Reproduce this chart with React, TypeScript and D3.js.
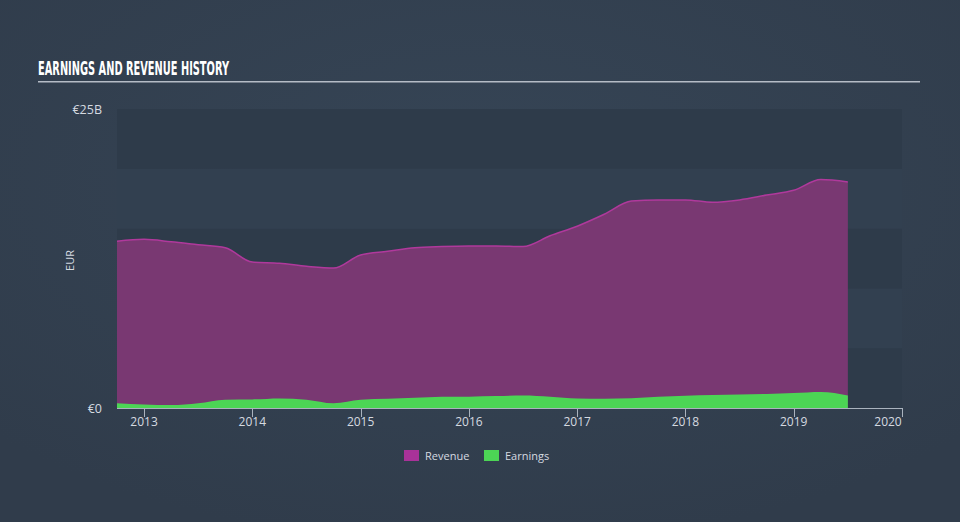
import React from "react";
import * as d3 from "d3";

const dates: number[] = [
  2012.75, 2013.0, 2013.25, 2013.5, 2013.75, 2014.0, 2014.25, 2014.5, 2014.75,
  2015.0, 2015.25, 2015.5, 2015.75, 2016.0, 2016.25, 2016.5, 2016.75,
  2017.0, 2017.25, 2017.5, 2017.75, 2018.0, 2018.25, 2018.5, 2018.75,
  2019.0, 2019.25, 2019.5,
];
const revenue: number[] = [
  13.95, 14.1, 13.9, 13.65, 13.4, 12.2, 12.1, 11.85, 11.7,
  12.8, 13.1, 13.4, 13.5, 13.55, 13.55, 13.5, 14.4,
  15.2, 16.2, 17.3, 17.4, 17.4, 17.2, 17.4, 17.8,
  18.2, 19.1, 18.9,
];
const earnings: number[] = [
  0.4, 0.3, 0.25, 0.4, 0.7, 0.72, 0.8, 0.7, 0.4,
  0.7, 0.78, 0.85, 0.95, 0.95, 1.0, 1.05, 0.95,
  0.8, 0.78, 0.82, 0.95, 1.03, 1.08, 1.12, 1.18,
  1.25, 1.34, 1.05,
];
const xTicks: number[] = [2013, 2014, 2015, 2016, 2017, 2018, 2019, 2020];
const yTickLabels: string[] = ["€0", "€25B"];
const yTickValues: number[] = [0, 25];
const legendLabels: string[] = ["Revenue", "Earnings"];

const W = 960;
const H = 522;
const left = 117;
const right = 902;
const top = 109;
const bottom = 408;

export default function App() {
  const x = d3.scaleLinear().domain([2012.75, 2020]).range([left, right]);
  const y = d3.scaleLinear().domain([0, 25]).range([bottom, top]);
  const pts = dates.map((d, i) => ({ d, r: revenue[i], e: earnings[i] }));
  const curve = d3.curveMonotoneX;
  const revArea = d3
    .area<any>()
    .x((p) => x(p.d))
    .y0(y(0))
    .y1((p) => y(p.r))
    .curve(curve)(pts) as string;
  const revLine = d3
    .line<any>()
    .x((p) => x(p.d))
    .y((p) => y(p.r))
    .curve(curve)(pts) as string;
  const earnArea = d3
    .area<any>()
    .x((p) => x(p.d))
    .y0(y(0))
    .y1((p) => y(p.e))
    .curve(curve)(pts) as string;

  const bands = d3.range(0, 25, 5);
  const font = "'Open Sans', 'DejaVu Sans', sans-serif";

  return (
    <svg
      width={W}
      height={H}
      style={{ position: "absolute", left: 0, top: 0, display: "block" }}
    >
      <defs>
        <radialGradient id="bg" cx="50%" cy="35%" r="70%">
          <stop offset="0%" stopColor="#364556" />
          <stop offset="100%" stopColor="#303c4b" />
        </radialGradient>
      </defs>
      <rect x={0} y={0} width={W} height={H} fill="url(#bg)" />
      <text
        x={38}
        y={75}
        fill="#ffffff"
        fontFamily="'Liberation Sans Narrow', 'DejaVu Sans Condensed', sans-serif"
        fontWeight="bold"
        fontSize={20}
        textLength={191}
        lengthAdjust="spacingAndGlyphs"
      >
        EARNINGS AND REVENUE HISTORY
      </text>
      <rect x={38} y={81} width={882} height={1.5} fill="#b5bcc6" />

      {bands.map((b, i) => (
        <rect
          key={b}
          x={left}
          y={y(b + 5)}
          width={right - left}
          height={y(b) - y(b + 5)}
          fill={i % 2 === 0 ? "#2e3b4a" : "#324050"}
        />
      ))}

      <path d={revArea} fill="#793872" />
      <path d={revLine} fill="none" stroke="#b0399c" strokeWidth={1.5} />
      <path d={earnArea} fill="#4cd555" />

      {yTickValues.map((v, i) => (
        <text
          key={v}
          x={102}
          y={y(v) + 4.5}
          textAnchor="end"
          fill="#d5dae0"
          fontFamily={font}
          fontSize={12.5}
        >
          {yTickLabels[i]}
        </text>
      ))}
      <text
        transform={`translate(74,${(top + bottom) / 2 + 2}) rotate(-90)`}
        textAnchor="middle"
        fill="#d5dae0"
        fontFamily={font}
        fontSize={11}
      >
        EUR
      </text>

      <line x1={left} x2={right} y1={bottom + 0.5} y2={bottom + 0.5} stroke="#aab3be" strokeWidth={1} />
      {xTicks.map((t) => (
        <g key={t}>
          <line
            x1={Math.round(x(t)) + 0.5}
            x2={Math.round(x(t)) + 0.5}
            y1={bottom}
            y2={bottom + 9}
            stroke="#aab3be"
            strokeWidth={1}
          />
          <text
            x={x(t) - (t === 2020 ? 14 : 0)}
            y={bottom + 18}
            textAnchor="middle"
            fill="#d5dae0"
            fontFamily={font}
            fontSize={12}
          >
            {t}
          </text>
        </g>
      ))}

      <rect x={404} y={450} width={15} height={11} fill="#a93299" />
      <text x={425} y={460} fill="#d5dae0" fontFamily={font} fontSize={11}>
        {legendLabels[0]}
      </text>
      <rect x={484} y={450} width={15} height={11} fill="#4cd555" />
      <text x={505} y={460} fill="#d5dae0" fontFamily={font} fontSize={11}>
        {legendLabels[1]}
      </text>
    </svg>
  );
}
